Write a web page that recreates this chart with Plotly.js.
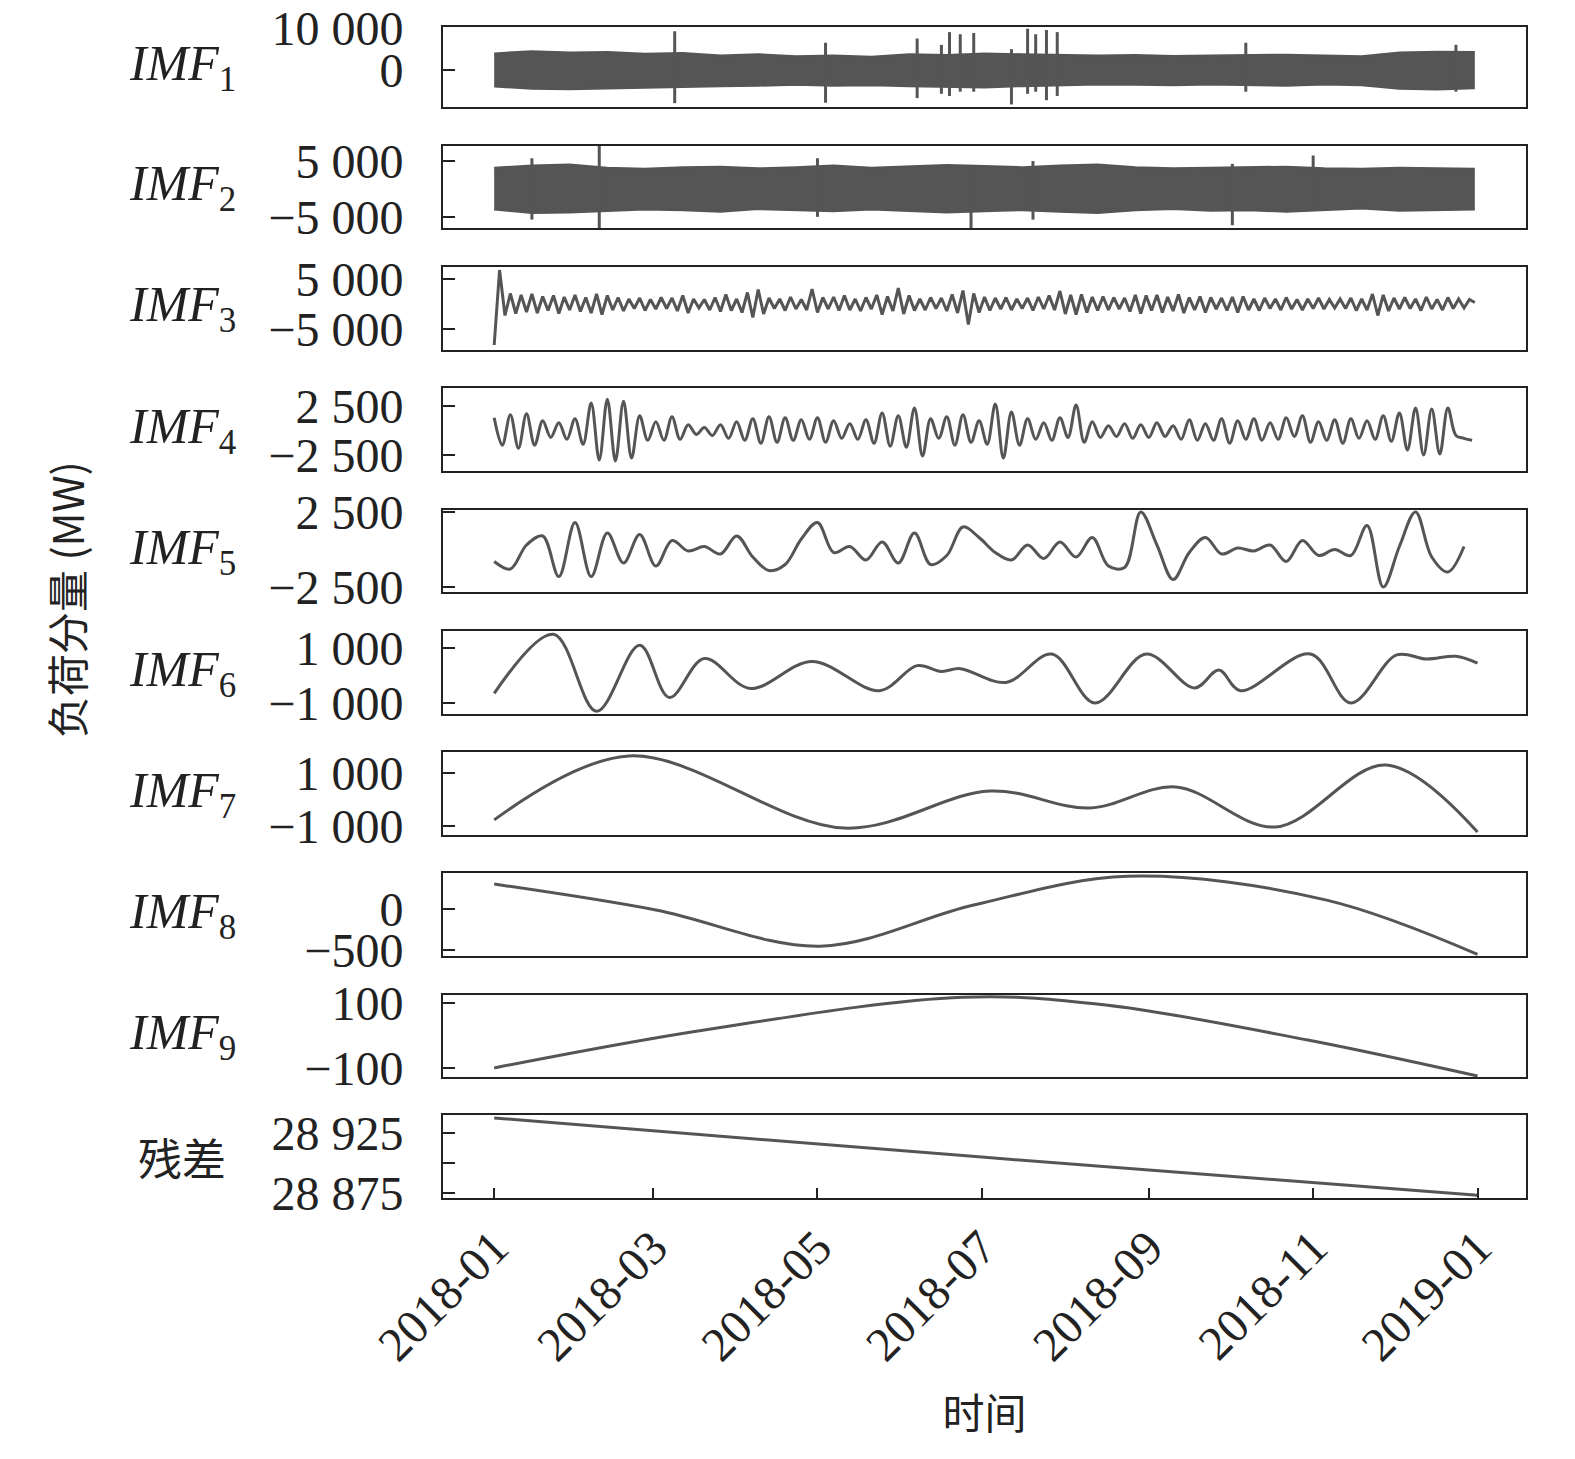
<!DOCTYPE html>
<html>
<head>
<meta charset="utf-8">
<script src="https://cdn.plot.ly/plotly-3.0.1.min.js"></script>
<style>body{margin:0;background:#fff}#chart{width:1575px;height:1459px}</style>
</head>
<body>
<div id="chart"></div>
<script>
// ---- data ----
const DAY0 = Date.UTC(2018, 0, 1);
function day(n) { return new Date(DAY0 + n * 86400000).toISOString().slice(0, 10); }

// IMF1 / IMF2: dense band drawn as envelope (every 14 days) plus spikes
const envDays = [0,14,28,42,56,70,84,98,112,126,140,154,168,182,196,210,224,238,252,266,280,294,308,322,336,350,364];
const imf1Upper = [4000,4500,4200,4300,3900,4100,3500,3800,3300,3500,3200,3800,3600,4000,3800,3700,3500,3600,3400,3500,3600,3700,3500,3300,4200,4400,4300];
const imf1Lower = [-3800,-4300,-4400,-4200,-4000,-3800,-3700,-3600,-3400,-3600,-3500,-3700,-3800,-4000,-3700,-3500,-3300,-3400,-3500,-3300,-3400,-3600,-3300,-3500,-4300,-4500,-4200];
const imf1SpikeDays = [67,123,157,166,169,173,178,192,198,201,205,209,279,357];
const imf1SpikeLo = [-7700,-7600,-6500,-5500,-6000,-5000,-5000,-8000,-5500,-5000,-7000,-6000,-5000,-5000];
const imf1SpikeHi = [9200,6500,7500,6000,9000,8500,8800,5000,9800,8500,9500,9000,6500,6000];

const imf2Upper = [3800,4200,4400,3800,3600,3900,4000,3700,3900,4200,3800,4000,4300,4100,3900,4200,4400,3900,3700,3800,3900,4000,3700,3600,3800,3700,3600];
const imf2Lower = [-3700,-4300,-4200,-3900,-3700,-3800,-4100,-3600,-3800,-4000,-3700,-3900,-4200,-4000,-3800,-4100,-4300,-3800,-3600,-3900,-3800,-4100,-3800,-3500,-3900,-3800,-3700];
const imf2SpikeDays = [14,39,120,177,200,274,304];
const imf2SpikeLo = [-5500,-7500,-5000,-7000,-5500,-6500,-3500];
const imf2SpikeHi = [5500,7700,5500,4000,5000,4500,6000];

// IMF3: every 2 days
const imf3 = [-8200,6800,-2300,2100,-1900,1800,-1600,2000,-1800,1500,
 -1300,1700,-1900,1400,-1200,1800,-1500,1300,-1800,2000,
 -2100,1700,-1200,1300,-1400,1000,-900,1200,-1300,900,
 -1000,1300,-900,1200,-1400,1700,-1800,1000,-800,900,
 -1200,1300,-1500,1900,-1300,1000,-1700,2300,-2700,2900,
 -2000,1200,-900,1000,-1300,1400,-1000,900,-1200,3000,
 -1700,1300,-1000,1400,-1300,1700,-1200,1000,-1400,1300,
 -1000,1800,-2100,1500,-1400,3200,-2000,1700,-1300,1000,
 -1200,1300,-900,1200,-1400,1900,-1800,2700,-4100,2100,
 -1700,1400,-1300,1200,-1000,1300,-1200,1000,-900,1200,
 -1300,1400,-1000,1700,-1200,2600,-2000,1800,-2100,1900,
 -1700,1400,-1300,1500,-1200,1300,-1000,1200,-1500,1800,
 -1900,1700,-1300,1800,-1700,1400,-1400,1900,-1800,1300,
 -1200,1500,-1700,1300,-1000,1200,-1300,1400,-1700,1500,
 -1200,1000,-1300,1200,-900,1000,-1200,1300,-1000,900,
 -1200,1000,-900,1200,-1000,900,-800,1000,-900,1200,
 -1300,1000,-1200,2000,-2300,1800,-1400,1200,-1000,1300,
 -900,1000,-1300,1400,-1000,900,-1200,1300,-900,1000,
 -800,900,300];

// IMF4: every 3 days
const imf4 = [1300,-1500,1600,-1800,1700,-1500,1000,-700,800,-900,
 1200,-1400,2800,-3000,3200,-3100,3000,-2800,1500,-1000,
 900,-1000,1400,-900,600,-400,300,-500,600,-800,
 900,-1000,1200,-1300,1400,-1200,1300,-1000,1100,-900,
 1300,-1200,1000,-800,700,-900,1100,-1300,1800,-1600,
 1500,-1700,2300,-2600,1200,-800,1400,-1500,1600,-1200,
 1000,-1400,2700,-2800,1900,-1500,1200,-900,800,-1000,
 1300,-700,2600,-1200,900,-700,500,-600,700,-800,
 600,-700,800,-600,500,-900,1100,-1000,700,-1000,
 1200,-1300,1000,-900,1200,-1000,800,-900,1300,-600,
 1500,-1200,900,-1000,1100,-1300,1200,-800,1000,-900,
 1500,-1100,1800,-2000,2300,-2500,2200,-2400,2300,-500,
 -800,-1000];

// IMF5: every 6 days
const imf5 = [-800,-1300,300,900,-1800,1800,-1800,1100,-900,1000,-1100,600,-100,200,-300,900,-500,-1400,-1000,700,1800,-200,200,-700,500,-900,1100,-1000,-400,1500,800,-200,-700,300,-600,500,-500,800,-1100,-1200,2500,300,-2000,-200,800,-300,100,-100,300,-800,600,-400,0,-400,1600,-2500,200,2500,-500,-1500,200];

// IMF6..residual: turning points
const imf6Dates = ['2018-01-01','2018-01-23','2018-02-08','2018-02-24','2018-03-07','2018-03-20','2018-04-06','2018-04-29','2018-05-24','2018-06-07','2018-06-16','2018-06-23','2018-07-10','2018-07-27','2018-08-12','2018-08-31','2018-09-18','2018-09-27','2018-10-05','2018-10-31','2018-11-15','2018-12-02','2018-12-13','2018-12-24','2019-01-01'];
const imf6 = [-650,1500,-1300,1100,-800,620,-470,510,-550,360,150,250,-250,780,-1000,780,-450,200,-550,780,-1000,750,600,700,450];

const imf7Dates = ['2018-01-01','2018-02-20','2018-05-11','2018-07-04','2018-08-10','2018-09-11','2018-10-18','2018-11-28','2019-01-01'];
const imf7 = [-770,1640,-1080,320,-320,470,-1040,1300,-1230];

const imf8Dates = ['2018-01-01','2018-03-02','2018-05-02','2018-06-28','2018-08-24','2018-11-06','2019-01-01'];
const imf8 = [305,-10,-450,50,400,110,-550];

const imf9Dates = ['2018-01-01','2018-03-20','2018-06-24','2018-08-16','2018-10-30','2019-01-01'];
const imf9 = [-100,17,118,94,-14,-125];

const resDates = ['2018-01-01','2018-07-01','2019-01-01'];
const resid = [28937.5,28905,28873.3];

const xTicks = ['2018-01-01','2018-03-01','2018-05-01','2018-07-01','2018-09-01','2018-11-01','2019-01-01'];
const xTickText = ['2018-01','2018-03','2018-05','2018-07','2018-09','2018-11','2019-01'];

// ---- panels ----
const panels = [
  {label:'<i>IMF</i><sub>1</sub>', top:27, bot:107, range:[-8600,10200], tv:[10000,0], tt:['10 000','0']},
  {label:'<i>IMF</i><sub>2</sub>', top:146, bot:228, range:[-7000,7700], tv:[5000,-5000], tt:['5 000','−5 000']},
  {label:'<i>IMF</i><sub>3</sub>', top:267, bot:350, range:[-9200,7400], tv:[5000,-5000], tt:['5 000','−5 000']},
  {label:'<i>IMF</i><sub>4</sub>', top:388, bot:471, range:[-4130,4340], tv:[2500,-2500], tt:['2 500','−2 500']},
  {label:'<i>IMF</i><sub>5</sub>', top:510, bot:592, range:[-2830,2630], tv:[2500,-2500], tt:['2 500','−2 500']},
  {label:'<i>IMF</i><sub>6</sub>', top:631, bot:714, range:[-1400,1620], tv:[1000,-1000], tt:['1 000','−1 000']},
  {label:'<i>IMF</i><sub>7</sub>', top:752, bot:835, range:[-1340,1790], tv:[1000,-1000], tt:['1 000','−1 000']},
  {label:'<i>IMF</i><sub>8</sub>', top:873, bot:956, range:[-570,440], tv:[0,-500], tt:['0','−500']},
  {label:'<i>IMF</i><sub>9</sub>', top:995, bot:1077, range:[-128,125], tv:[100,-100], tt:['100','−100']},
  {label:'残差', top:1115, bot:1198, range:[28871,28940], tv:[28925,28900,28875], tt:['28 925','','28 875']}
];

const H = 1459, W = 1575;
const LINE = '#555555';
const serif = 'Liberation Serif, Times New Roman, serif';
const xRange = ['2017-12-13','2019-01-19'];

function envelopeTraces(i, up, lo, sDays, sLo, sHi) {
  const ax = i === 0 ? '' : String(i + 1);
  const xs = envDays.map(day);
  const sx = [], sy = [];
  sDays.forEach((d, k) => { sx.push(day(d), day(d), null); sy.push(sLo[k], sHi[k], null); });
  return [
    {x: xs, y: lo, mode: 'lines', line: {color: LINE, width: 2}, xaxis: 'x' + ax, yaxis: 'y' + ax},
    {x: xs, y: up, mode: 'lines', fill: 'tonexty', fillcolor: LINE, line: {color: LINE, width: 2}, xaxis: 'x' + ax, yaxis: 'y' + ax},
    {x: sx, y: sy, mode: 'lines', line: {color: LINE, width: 3}, xaxis: 'x' + ax, yaxis: 'y' + ax}
  ];
}
function lineTrace(i, xs, ys, shape) {
  const ax = i === 0 ? '' : String(i + 1);
  return {x: xs, y: ys, mode: 'lines', line: {color: LINE, width: 3, shape: shape || 'spline'}, xaxis: 'x' + ax, yaxis: 'y' + ax};
}

const data = [
  ...envelopeTraces(0, imf1Upper, imf1Lower, imf1SpikeDays, imf1SpikeLo, imf1SpikeHi),
  ...envelopeTraces(1, imf2Upper, imf2Lower, imf2SpikeDays, imf2SpikeLo, imf2SpikeHi),
  lineTrace(2, imf3.map((v, k) => day(k * 2)), imf3, 'linear'),
  lineTrace(3, imf4.map((v, k) => day(k * 3)), imf4),
  lineTrace(4, imf5.map((v, k) => day(k * 6)), imf5),
  lineTrace(5, imf6Dates, imf6),
  lineTrace(6, imf7Dates, imf7),
  lineTrace(7, imf8Dates, imf8),
  lineTrace(8, imf9Dates, imf9),
  lineTrace(9, resDates, resid)
];

const layout = {
  width: W, height: H,
  margin: {l: 0, r: 0, t: 0, b: 0},
  showlegend: false,
  paper_bgcolor: '#fff', plot_bgcolor: '#fff',
  font: {family: serif, size: 48, color: '#222'},
  annotations: []
};

const tickFont = {family: serif, size: 48, color: '#222'};

panels.forEach((p, i) => {
  const ax = i === 0 ? '' : String(i + 1);
  const last = i === panels.length - 1;
  layout['xaxis' + ax] = {
    domain: [443 / W, 1526 / W], type: 'date', range: xRange,
    anchor: 'y' + ax, showgrid: false, zeroline: false,
    showline: true, mirror: true, linecolor: '#222', linewidth: 2,
    ticks: last ? 'inside' : '', ticklen: 10, tickwidth: 2, tickcolor: '#222',
    tickvals: last ? xTicks : [], ticktext: last ? xTickText : [],
    showticklabels: last, tickangle: -45,
    tickfont: tickFont
  };
  if (last) {
    layout['xaxis' + ax].title = {text: '时间', font: {family: 'Noto Sans CJK SC', size: 42, color: '#222'}, standoff: 30};
  }
  layout['yaxis' + ax] = {
    domain: [1 - p.bot / H, 1 - p.top / H], range: p.range,
    anchor: 'x' + ax, showgrid: false, zeroline: false,
    showline: true, mirror: true, linecolor: '#222', linewidth: 2,
    ticks: 'inside', ticklen: 12, tickwidth: 2, tickcolor: '#222',
    ticklabelstandoff: 28,
    tickvals: p.tv, ticktext: p.tt,
    tickfont: tickFont
  };
  layout.annotations.push({
    xref: 'paper', yref: 'paper', x: 182 / W, y: 1 - (p.top + p.bot) / 2 / H,
    text: p.label, showarrow: false, xanchor: 'center', yanchor: 'middle',
    font: {family: i === 9 ? 'Noto Sans CJK SC' : serif, size: i === 9 ? 44 : 50, color: '#222'}
  });
});

layout.annotations.push({
  xref: 'paper', yref: 'paper', x: 65 / W, y: 1 - 600 / H,
  text: '负荷分量 (MW)', textangle: -90, showarrow: false,
  xanchor: 'center', yanchor: 'middle',
  font: {family: 'Noto Sans CJK SC', size: 42, color: '#222'}
});

Plotly.newPlot('chart', data, layout, {displayModeBar: false, staticPlot: true});
</script>
</body>
</html>
